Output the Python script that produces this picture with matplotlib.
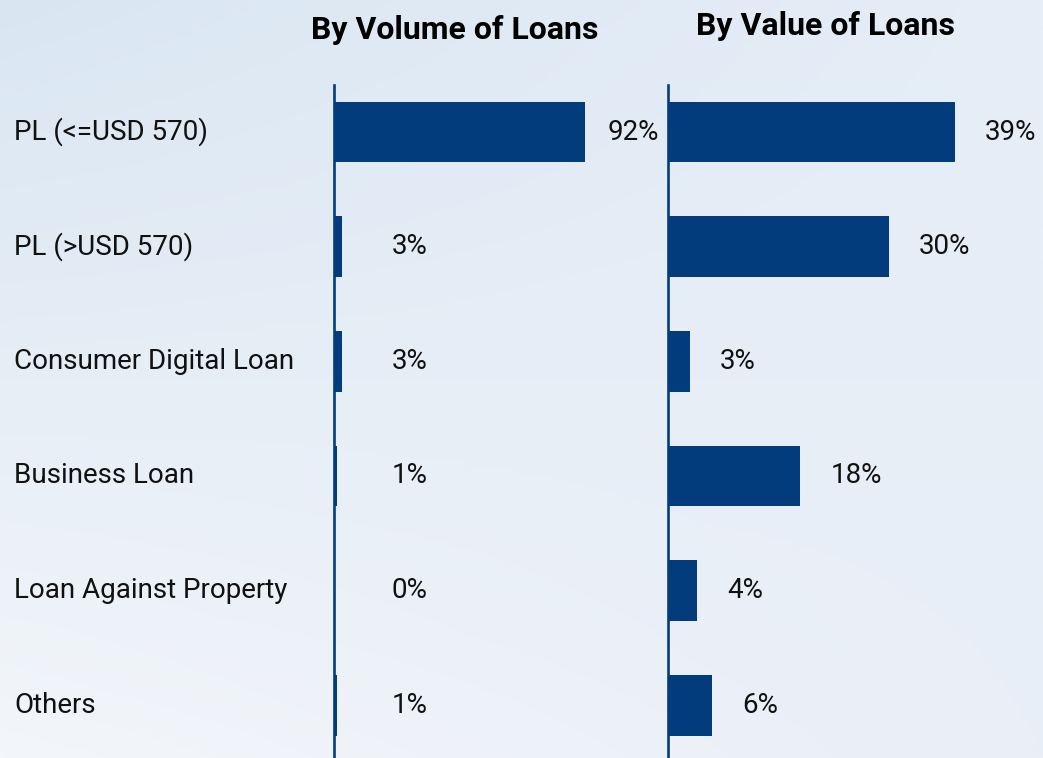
import matplotlib
matplotlib.use("Agg")
import matplotlib.pyplot as plt
import numpy as np
from matplotlib.transforms import blended_transform_factory
from matplotlib.colors import to_rgb

categories = ["PL (<=USD 570)", "PL (>USD 570)", "Consumer Digital Loan",
              "Business Loan", "Loan Against Property", "Others"]
volume_pct = [92, 3, 3, 1, 0, 1]
value_pct = [39, 30, 3, 18, 4, 6]
titles = ["By Volume of Loans", "By Value of Loans"]

NAVY = "#033c7c"
W, H = 1043, 758
plt.rcParams["font.family"] = ["Roboto", "DejaVu Sans"]

fig = plt.figure(figsize=(W / 100, H / 100), dpi=100)

# background gradient
bg = fig.add_axes([0, 0, 1, 1], zorder=-10)
tl, tr, bl, br = [np.array(to_rgb(c)) for c in ("#d9e6f2", "#e6eef7", "#f3f6fa", "#e9eef7")]
yy, xx = np.mgrid[0:1:200j, 0:1:300j]
img = (tl[None, None, :] * ((1 - xx) * (1 - yy))[..., None]
       + tr[None, None, :] * (xx * (1 - yy))[..., None]
       + bl[None, None, :] * ((1 - xx) * yy)[..., None]
       + br[None, None, :] * (xx * yy)[..., None])
bg.imshow(img, aspect="auto", extent=[0, 1, 0, 1], origin="upper")
bg.set_axis_off()

top_px, bottom_px = 85, 758
ax1 = fig.add_axes([334 / W, 0, 334 / W, (bottom_px - top_px) / H])
ax2 = fig.add_axes([668 / W, 0, 375 / W, (bottom_px - top_px) / H])

y = np.arange(len(categories))
for ax, vals, xmax in ((ax1, volume_pct, 122.3), (ax2, value_pct, 51.0)):
    ax.barh(y, vals, height=0.53, color=NAVY)
    ax.set_xlim(0, xmax)
    ax.set_ylim(5.46, -0.41)
    ax.patch.set_alpha(0)
    for s in ("top", "right", "bottom"):
        ax.spines[s].set_visible(False)
    ax.spines["left"].set_color(NAVY)
    ax.spines["left"].set_linewidth(1.9)
    ax.set_xticks([])
    ax.set_yticks([])

LBL = 20
for i, v in enumerate(volume_pct):
    ax1.annotate(f"{v}%", (max(v, 13), i), xytext=(22, 0), textcoords="offset pixels",
                 ha="left", va="center", fontsize=LBL, color="#111111")
for i, v in enumerate(value_pct):
    ax2.annotate(f"{v}%", (v, i), xytext=(30, 0), textcoords="offset pixels",
                 ha="left", va="center", fontsize=LBL, color="#111111")

tr_lab = blended_transform_factory(fig.transFigure, ax1.transData)
for i, c in enumerate(categories):
    ax1.text(14 / W, i, c, transform=tr_lab, ha="left", va="center",
             fontsize=LBL, color="#111111", clip_on=False)

fig.text(455 / W, 1 - 30 / H, titles[0], ha="center", va="center",
         fontsize=23, fontweight="bold", color="#000000")
fig.text(825 / W, 1 - 26 / H, titles[1], ha="center", va="center",
         fontsize=23, fontweight="bold", color="#000000")

fig.savefig("out.png", dpi=100)
